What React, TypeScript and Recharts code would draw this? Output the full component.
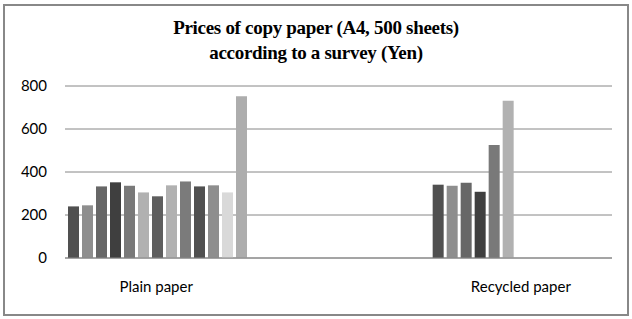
import { BarChart, Bar, XAxis, YAxis, CartesianGrid } from "recharts";

// categories (the middle one is an empty spacer category in the original sheet)
const categories = ["Plain paper", "", "Recycled paper"];

// one value per shop surveyed; recycled paper only has six shops
const plainPaper = [240, 245, 333, 352, 336, 305, 287, 338, 356, 333, 338, 305, 752];
const recycledPaper = [341, 336, 350, 308, 526, 731];

const yTicks = [0, 200, 400, 600, 800];

const barColors = [
  "#505050",
  "#8e8e8e",
  "#676767",
  "#3f3f3f",
  "#797979",
  "#b1b1b1",
  "#5e5e5e",
  "#b1b1b1",
  "#7b7b7b",
  "#505050",
  "#8e8e8e",
  "#d9d9d9",
  "#adadad",
];

const seriesKeys = plainPaper.map((_, i) => `s${i + 1}`);

const data = categories.map((name, ci) => {
  const row: Record<string, string | number | null> = { name };
  seriesKeys.forEach((key, si) => {
    if (ci === 0) row[key] = plainPaper[si] ?? null;
    else if (ci === 2) row[key] = recycledPaper[si] ?? null;
    else row[key] = null;
  });
  return row;
});

const axisFont = "Lato, 'Open Sans', sans-serif";

export default function App() {
  return (
    <div style={{ position: "absolute", left: 0, top: 0, width: 632, height: 319, background: "#fff" }}>
      <div
        style={{
          position: "absolute",
          left: 3,
          top: 4,
          width: 626,
          height: 312,
          border: "2px solid #888",
          boxSizing: "border-box",
        }}
      />
      <div
        style={{
          position: "absolute",
          left: 0,
          top: 15,
          width: 632,
          textAlign: "center",
          fontFamily: "'Liberation Serif', 'Times New Roman', serif",
          fontWeight: "bold",
          fontSize: 19,
          letterSpacing: -0.3,
          lineHeight: "25px",
          color: "#000",
        }}
      >
        Prices of copy paper (A4, 500 sheets)
        <br />
        according to a survey (Yen)
      </div>
      <div style={{ position: "absolute", left: 0, top: 0 }}>
        <BarChart
          width={632}
          height={319}
          data={data}
          margin={{ top: 86, right: 20, bottom: 31, left: 0 }}
          barCategoryGap={3}
          barGap={3}
        >
          <CartesianGrid vertical={false} stroke="#868686" strokeWidth={1} />
          <XAxis
            dataKey="name"
            height={30}
            axisLine={{ stroke: "#868686" }}
            tickLine={false}
            tickSize={0}
            tickMargin={23}
            interval={0}
            tick={{ fill: "#000", fontSize: 15, fontFamily: axisFont }}
          />
          <YAxis
            width={65}
            domain={[0, 800]}
            ticks={yTicks}
            axisLine={false}
            tickLine={false}
            tickSize={0}
            tickMargin={18}
            tick={{ fill: "#000", fontSize: 15, fontFamily: axisFont }}
          />
          {seriesKeys.map((key, i) => (
            <Bar key={key} dataKey={key} fill={barColors[i]} isAnimationActive={false} />
          ))}
        </BarChart>
      </div>
    </div>
  );
}
